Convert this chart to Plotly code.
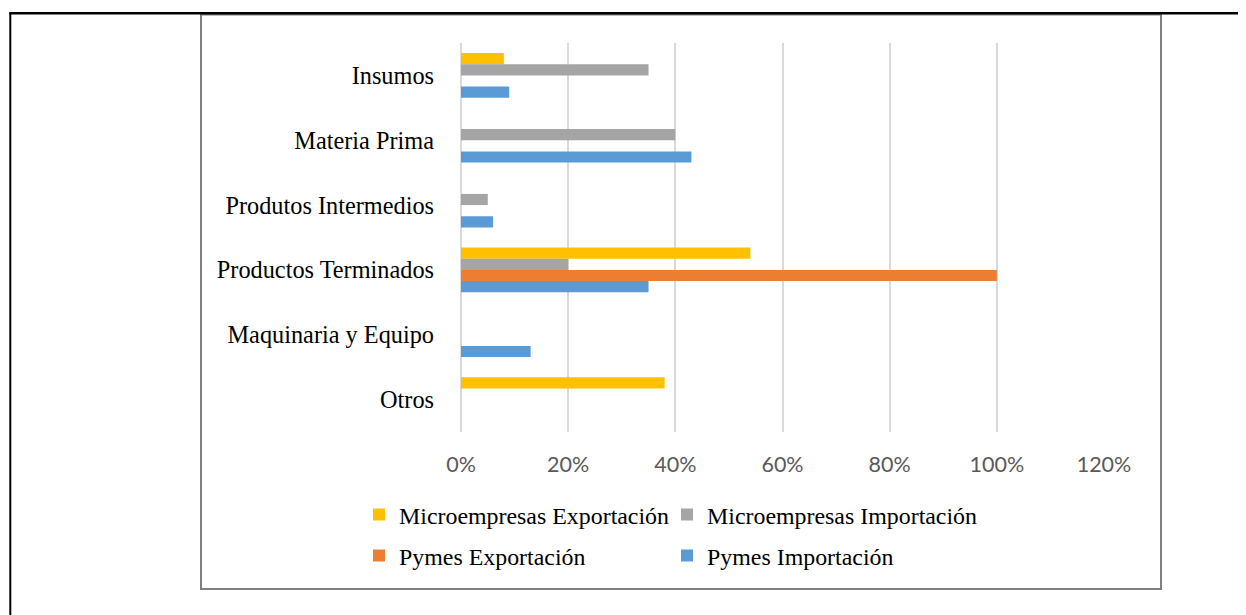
import plotly.graph_objects as go

categories = ["Insumos", "Materia Prima", "Produtos Intermedios",
              "Productos Terminados", "Maquinaria y Equipo", "Otros"]
micro_exp = [0.08, None, None, 0.54, None, 0.38]
micro_imp = [0.35, 0.40, 0.05, 0.20, None, None]
pymes_exp = [None, None, None, 1.00, None, None]
pymes_imp = [0.09, 0.43, 0.06, 0.35, 0.13, None]
tick_vals = [0, 0.2, 0.4, 0.6, 0.8, 1.0, 1.2]
tick_text = ["0%", "20%", "40%", "60%", "80%", "100%", "120%"]

OFF = 8  # page body margin
W, H = 1246 - OFF, 615 - OFF
L, R, T, B = 461 - OFF, 142, 43 - OFF, 183
PW, PH = W - L - R, H - T - B


def px(x):
    return (x - OFF - L) / PW


def py(y):
    return (H - B - (y - OFF)) / PH


serif = "Liberation Serif, Times New Roman, serif"
sans = "Lato, Open Sans, sans-serif"
FS = 24.3
LFS = 23.9

series = [
    ("Microempresas Exportación", micro_exp, "#FFC000", "legend", 359, 515),
    ("Microempresas Importación", micro_imp, "#A5A5A5", "legend2", 667, 515),
    ("Pymes Exportación", pymes_exp, "#ED7D31", "legend3", 359, 556),
    ("Pymes Importación", pymes_imp, "#5B9BD5", "legend4", 667, 556),
]

fig = go.Figure()
legends = {}
for name, vals, col, lg, lx, ly in series:
    fig.add_trace(go.Bar(
        y=categories, x=vals, name=name, orientation="h",
        marker=dict(color=col, line=dict(width=0)),
        legend=lg,
    ))
    legends[lg] = dict(
        orientation="h", xanchor="left", yanchor="middle",
        x=px(lx), y=py(ly),
        font=dict(family=serif, size=LFS, color="black"),
        bgcolor="rgba(0,0,0,0)", borderwidth=0,
    )

fig.update_layout(
    width=W, height=H,
    margin=dict(l=L, r=R, t=T, b=B, autoexpand=False),
    paper_bgcolor="white", plot_bgcolor="white",
    barmode="group", bargap=0.31, bargroupgap=0,
    font=dict(family=serif, size=FS, color="black"),
    xaxis=dict(
        range=[0, 1.2], tickvals=tick_vals, ticktext=tick_text,
        showgrid=True, gridcolor="#D9D9D9", gridwidth=1.5,
        zeroline=True, zerolinecolor="#D9D9D9", zerolinewidth=1.5,
        showline=False, ticks="", ticklabelstandoff=17,
        tickfont=dict(family=sans, size=21.5, color="#595959"),
    ),
    yaxis=dict(
        categoryorder="array", categoryarray=categories,
        autorange="reversed", showgrid=False, zeroline=False,
        showline=False, ticks="", ticklabelstandoff=26,
        tickfont=dict(family=serif, size=FS, color="black"),
    ),
    showlegend=True,
    shapes=[
        dict(type="rect", xref="paper", yref="paper",
             x0=px(201), x1=px(1161), y0=py(589), y1=py(14.5),
             line=dict(color="#7F7F7F", width=2), layer="below"),
        dict(type="line", xref="paper", yref="paper",
             x0=px(9.5), x1=px(1246), y0=py(13.2), y1=py(13.2),
             line=dict(color="black", width=2.5)),
        dict(type="line", xref="paper", yref="paper",
             x0=px(10.3), x1=px(10.3), y0=py(12), y1=py(615),
             line=dict(color="black", width=2)),
    ],
    **legends,
)

fig.write_html("out.html")
